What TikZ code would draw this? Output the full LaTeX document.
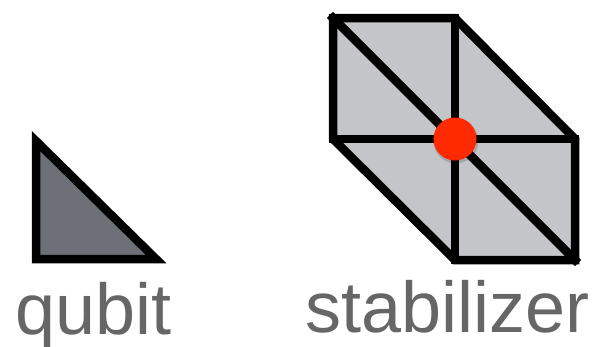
\documentclass[tikz,border=0pt]{standalone}
\usepackage{fontspec}
\setmainfont{Liberation Sans}
\definecolor{qfill}{HTML}{6E7078}
\definecolor{sfill}{HTML}{C4C5C8}
\definecolor{txt}{HTML}{666666}
\definecolor{dotred}{HTML}{FF2A00}
\begin{document}
\begin{tikzpicture}[x=1pt,y=-1pt,
  edge/.style={line width=8.5pt,black,line cap=rect,line join=miter},
  lbl/.style={text=txt,font=\fontsize{72}{72}\selectfont,inner sep=0pt,anchor=base west}]
\useasboundingbox (0,0) rectangle (605,346);
% qubit
\coordinate (qa) at (36,141);
\coordinate (qb) at (36,259);
\coordinate (qc) at (156,259);
\fill[qfill] (qa) -- (qb) -- (qc) -- cycle;
\draw[edge] (qa) -- (qb) -- (qc) -- cycle;
% stabilizer
\coordinate (tl) at (333,18);
\coordinate (tm) at (455,18);
\coordinate (ml) at (333,139);
\coordinate (c) at (455,139);
\coordinate (mr) at (575,139);
\coordinate (bm) at (455,260);
\coordinate (br) at (575,260);
\fill[sfill] (tl) -- (tm) -- (mr) -- (br) -- (bm) -- (ml) -- cycle;
\draw[edge] (tl) -- (tm) -- (mr) -- (br) -- (bm) -- (ml) -- cycle;
\draw[edge] (tl) -- (br);
\draw[edge] (tm) -- (bm);
\draw[edge] (ml) -- (mr);
\fill[black,opacity=0.15] (456,141) circle (22.5);
\node[circle,fill=dotred,minimum size=43pt,inner sep=0pt] (dot) at (c) {};
% labels
\node[lbl] (ql) at (15,334) {qubit};
\node[lbl] (sl) at (305,332) {stabilizer};
\end{tikzpicture}
\end{document}
